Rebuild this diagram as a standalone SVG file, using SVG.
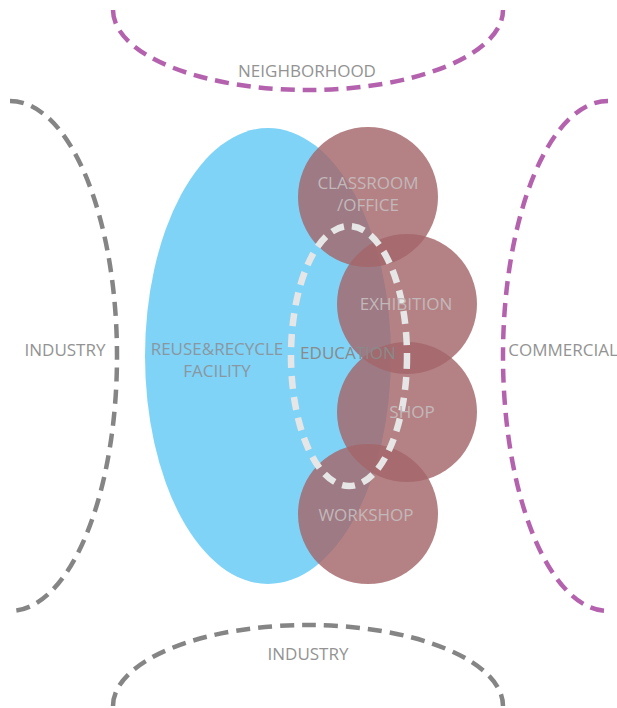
<svg xmlns="http://www.w3.org/2000/svg" width="617" height="708" viewBox="0 0 617 708">
<style>
.bound{fill:none;stroke-width:4.5;stroke-dasharray:14 8}
.purple{stroke:#b462ae}
.gray{stroke:#858585}
.lbl{font-family:"Open Sans","Liberation Sans",sans-serif;font-size:17px;text-anchor:middle}
.out{fill:#939393}
.in{fill:#c3b8b9}
.circ{fill:#a3666a;fill-opacity:0.82}
</style>
<rect width="617" height="708" fill="#ffffff"/>
<g id="connectors">
<path class="bound purple" d="M113,10 A195,80 0 0 0 503,10"/>
<path class="bound gray" d="M10,101 A107,255 0 0 1 10,611"/>
<path class="bound purple" d="M608,101 A105,255 0 0 0 608,611"/>
<path class="bound gray" d="M113,706 A195,81 0 0 1 503,706"/>
</g>
<g id="facility">
<ellipse cx="268" cy="356" rx="123" ry="228" fill="#7fd3f7"/>
</g>
<g id="classroom"><circle class="circ" cx="368" cy="197" r="70"/></g>
<g id="exhibition"><circle class="circ" cx="407" cy="304" r="70"/></g>
<g id="shop"><circle class="circ" cx="407" cy="412" r="70"/></g>
<g id="workshop"><circle class="circ" cx="368" cy="514" r="70"/></g>
<g id="education">
<ellipse cx="349" cy="356" rx="58" ry="130" fill="none" stroke="#e6e6e6" stroke-width="6.5" stroke-dasharray="13 8"/>
<text class="lbl" x="348" y="359" fill="#8a8a8a">EDUCATION</text>
</g>
<g id="labels">
<text class="lbl out" x="307" y="77">NEIGHBORHOOD</text>
<text class="lbl out" x="65" y="356">INDUSTRY</text>
<text class="lbl out" x="563" y="356">COMMERCIAL</text>
<text class="lbl out" x="308" y="660">INDUSTRY</text>
<text class="lbl" x="217" y="355" fill="#8b97a0">REUSE&amp;RECYCLE</text>
<text class="lbl" x="217" y="377" fill="#8b97a0">FACILITY</text>
<text class="lbl in" x="368" y="189">CLASSROOM</text>
<text class="lbl in" x="368" y="211">/OFFICE</text>
<text class="lbl in" x="406" y="310">EXHIBITION</text>
<text class="lbl in" x="412" y="418">SHOP</text>
<text class="lbl in" x="366" y="521">WORKSHOP</text>
</g>
</svg>
